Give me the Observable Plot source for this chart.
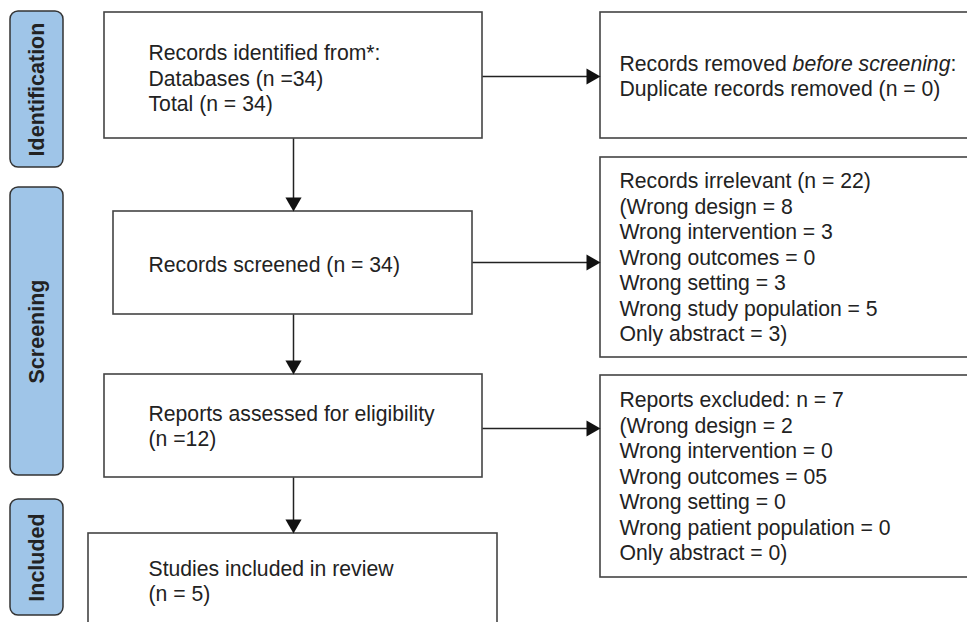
<!DOCTYPE html>
<html><head><meta charset="utf-8">
<script src="https://cdn.jsdelivr.net/npm/d3@7"></script>
<script src="https://cdn.jsdelivr.net/npm/@observablehq/plot@0.6"></script>
<style>body{margin:0;background:#fff} #chart svg{display:block}</style>
</head><body><div id="chart"></div>
<script>
// ---- data ----
const stages = ["Identification", "Screening", "Included"];
const identifiedDatabases = 34;
const identifiedTotal = 34;
const duplicatesRemoved = 0;
const screened = 34;
const irrelevantTotal = 22;
const irrelevantReasons = ["Wrong design", "Wrong intervention", "Wrong outcomes", "Wrong setting", "Wrong study population", "Only abstract"];
const irrelevantCounts = ["8", "3", "0", "3", "5", "3"];
const assessed = 12;
const excludedTotal = 7;
const excludedReasons = ["Wrong design", "Wrong intervention", "Wrong outcomes", "Wrong setting", "Wrong patient population", "Only abstract"];
const excludedCounts = ["2", "0", "05", "0", "0", "0"];
const included = 5;

function reasonLines(reasons, counts) {
  return reasons.map((r, i) => (i === 0 ? "(" : "") + r + " = " + counts[i] + (i === reasons.length - 1 ? ")" : ""));
}
const flowTexts = [
  `Records identified from*:\nDatabases (n =${identifiedDatabases})\nTotal (n = ${identifiedTotal})`,
  `Records screened (n = ${screened})`,
  `Reports assessed for eligibility\n(n =${assessed})`,
  `Studies included in review\n(n = ${included})`
];
const sideTexts = [
  `Records removed before screening:\nDuplicate records removed (n = ${duplicatesRemoved})`,
  [`Records irrelevant (n = ${irrelevantTotal})`, ...reasonLines(irrelevantReasons, irrelevantCounts)].join("\n"),
  [`Reports excluded: n = ${excludedTotal}`, ...reasonLines(excludedReasons, excludedCounts)].join("\n")
];

// ---- layout (diagram geometry) ----
const stageLayout = [
  {x1: 10, x2: 63, y1: 11, y2: 167},
  {x1: 10, x2: 63, y1: 187, y2: 475},
  {x1: 10, x2: 63, y1: 499, y2: 615}
];
const flowLayout = [
  {x1: 104, x2: 482, y1: 12, y2: 138, tx: 148, ty: 77},
  {x1: 113, x2: 472, y1: 211, y2: 314, tx: 148, ty: 263},
  {x1: 104, x2: 482, y1: 374, y2: 477, tx: 148, ty: 425},
  {x1: 88, x2: 497, y1: 533, y2: 650, tx: 148, ty: 580}
];
const sideLayout = [
  {x1: 600, x2: 990, y1: 12, y2: 138, tx: 619, ty: 75},
  {x1: 600, x2: 990, y1: 157, y2: 357, tx: 619, ty: 256},
  {x1: 600, x2: 990, y1: 375, y2: 577, tx: 619, ty: 475}
];
const arrows = [
  {x1: 293, y1: 138, x2: 293, y2: 211, dir: "down"},
  {x1: 293, y1: 314, x2: 293, y2: 374, dir: "down"},
  {x1: 293, y1: 477, x2: 293, y2: 533, dir: "down"},
  {x1: 482, y1: 76, x2: 600, y2: 76, dir: "right"},
  {x1: 472, y1: 262, x2: 600, y2: 262, dir: "right"},
  {x1: 482, y1: 428, x2: 600, y2: 428, dir: "right"}
];
const headR = 6;
const k = Math.sqrt(Math.PI * headR * headR / (3 * Math.sqrt(3))); // triangle half-base offset
const heads = arrows.map(a => a.dir === "down"
  ? {x: a.x2, y: a.y2 - 2 * k, rot: 180}
  : {x: a.x2 - 2 * k, y: a.y2, rot: 90});
const shafts = arrows.map(a => a.dir === "down"
  ? {...a, y2: a.y2 - 2 * k}
  : {...a, x2: a.x2 - 2 * k});

const W = 967, H = 622;
const FS = 21.2;
const LH = 25.5 / FS;
const font = "'Liberation Sans', Arial, Helvetica, sans-serif";

const chart = Plot.plot({
  width: W, height: H, margin: 0,
  x: {domain: [0, W], range: [0, W], axis: null},
  y: {domain: [0, H], range: [0, H], axis: null},
  style: {fontFamily: font, background: "#fff", overflow: "hidden"},
  marks: [
    Plot.rect(stageLayout, {x1: "x1", x2: "x2", y1: "y1", y2: "y2", rx: 8, fill: "#9fc5e8", stroke: "#333", strokeWidth: 1.5}),
    Plot.text(stageLayout, {x: d => (d.x1 + d.x2) / 2, y: d => (d.y1 + d.y2) / 2, text: (d, i) => stages[i],
      rotate: -90, fontWeight: "bold", fontSize: 21.5, fill: "#222"}),
    Plot.rect(flowLayout, {x1: "x1", x2: "x2", y1: "y1", y2: "y2", fill: "#fff", stroke: "#444", strokeWidth: 1.6}),
    Plot.rect(sideLayout, {x1: "x1", x2: "x2", y1: "y1", y2: "y2", fill: "#fff", stroke: "#444", strokeWidth: 1.6}),
    Plot.link(shafts, {x1: "x1", y1: "y1", x2: "x2", y2: "y2", stroke: "#222", strokeWidth: 1.5}),
    Plot.dot(heads, {x: "x", y: "y", rotate: "rot", symbol: "triangle", r: headR, fill: "#111", stroke: "none"}),
    Plot.text(flowLayout, {x: "tx", y: "ty", text: (d, i) => flowTexts[i], textAnchor: "start", lineAnchor: "middle",
      lineHeight: LH, fontSize: FS, fill: "#222"}),
    Plot.text(sideLayout, {x: "tx", y: "ty", text: (d, i) => sideTexts[i], textAnchor: "start", lineAnchor: "middle",
      lineHeight: LH, fontSize: FS, fill: "#222"})
  ]
});
document.getElementById("chart").appendChild(chart);

// italic phrase in the first side box
d3.select(chart).selectAll("tspan").each(function() {
  const t = d3.select(this);
  if (t.text() === "Records removed before screening:") {
    t.text("");
    t.append("tspan").text("Records removed ");
    t.append("tspan").attr("font-style", "italic").text("before screening");
    t.append("tspan").text(":");
  }
});
</script>
</body></html>
